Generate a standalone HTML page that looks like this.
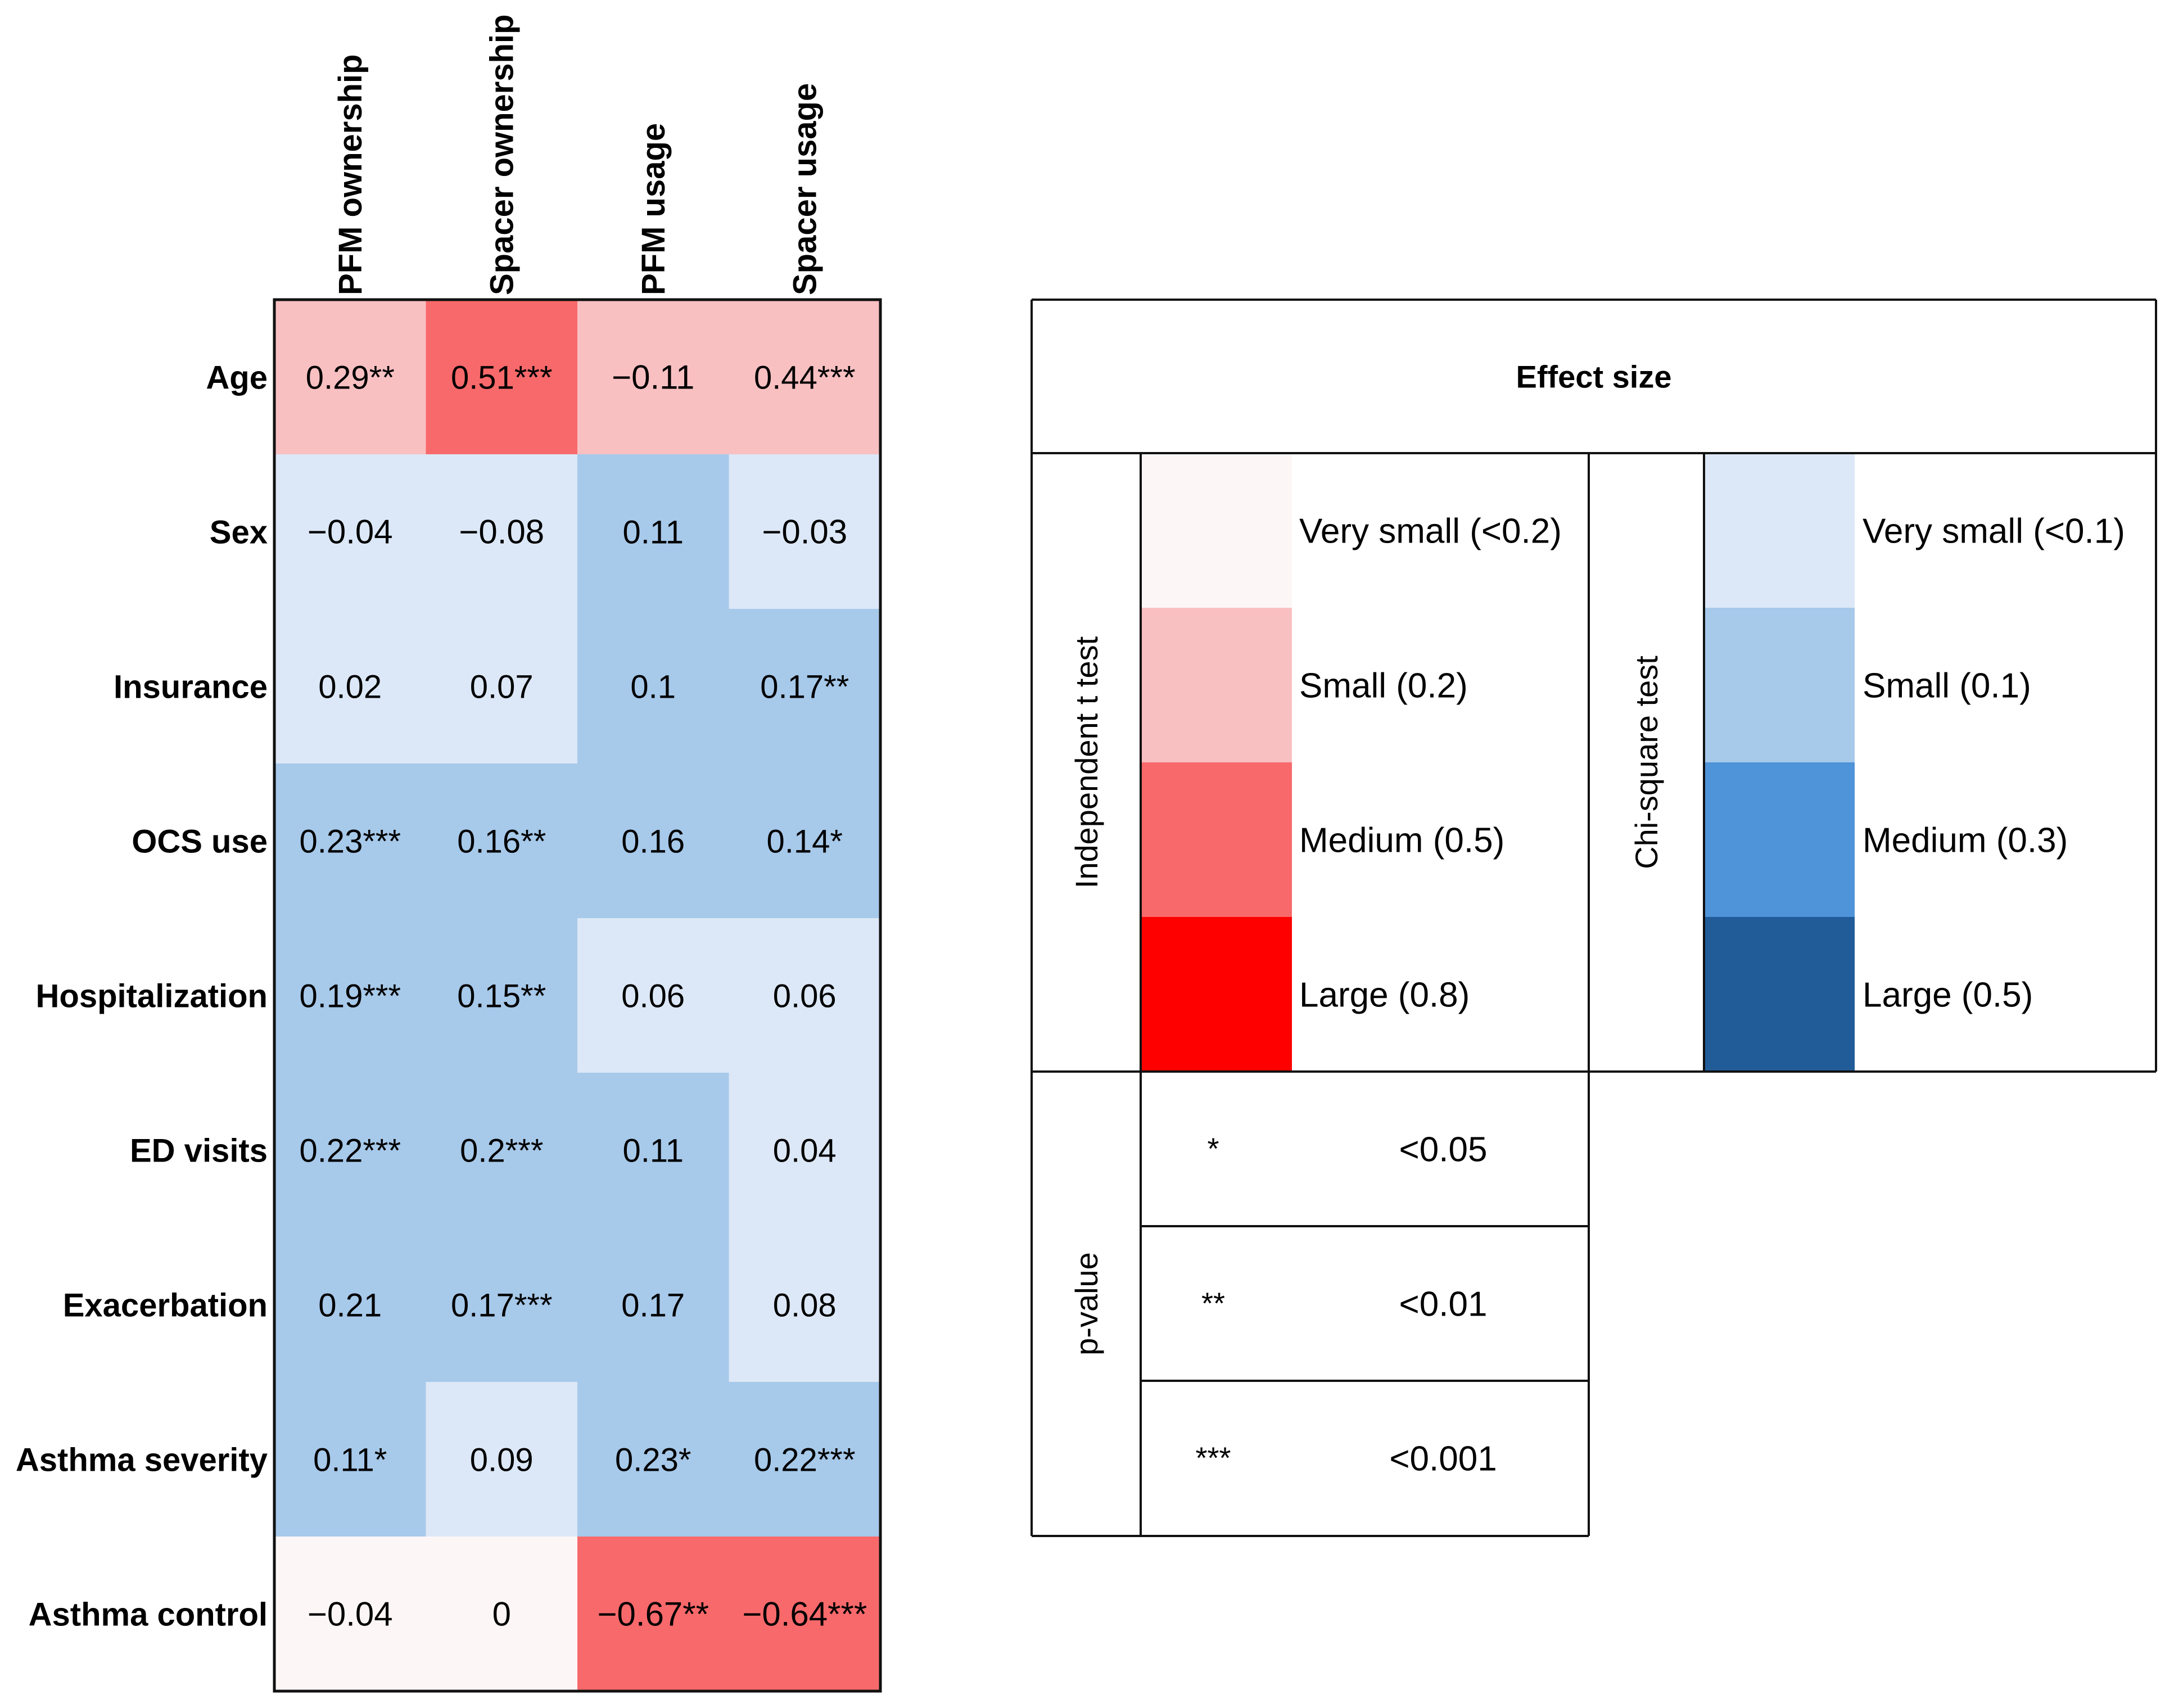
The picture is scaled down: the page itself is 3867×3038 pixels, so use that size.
<!DOCTYPE html>
<html><head><meta charset="utf-8"><style>
html,body{margin:0;padding:0;background:#fff}
svg{display:block}
text{font-family:"Liberation Sans",Arial,sans-serif}
</style></head><body>
<svg id="chart" width="3867" height="3038" viewBox="0 0 3867 3038" xmlns="http://www.w3.org/2000/svg">
<g id="heat"></g>
<g id="legend"></g>
</svg>
<script>
const rows = ["Age","Sex","Insurance","OCS use","Hospitalization","ED visits","Exacerbation","Asthma severity","Asthma control"];
const cols = ["PFM ownership","Spacer ownership","PFM usage","Spacer usage"];
const values = [
 ["0.29**","0.51***","\u22120.11","0.44***"],
 ["\u22120.04","\u22120.08","0.11","\u22120.03"],
 ["0.02","0.07","0.1","0.17**"],
 ["0.23***","0.16**","0.16","0.14*"],
 ["0.19***","0.15**","0.06","0.06"],
 ["0.22***","0.2***","0.11","0.04"],
 ["0.21","0.17***","0.17","0.08"],
 ["0.11*","0.09","0.23*","0.22***"],
 ["\u22120.04","0","\u22120.67**","\u22120.64***"]
];
const levels = [
 ["r1","r2","r1","r1"],
 ["b0","b0","b1","b0"],
 ["b0","b0","b1","b1"],
 ["b1","b1","b1","b1"],
 ["b1","b1","b0","b0"],
 ["b1","b1","b1","b0"],
 ["b1","b1","b1","b0"],
 ["b1","b0","b1","b1"],
 ["r0","r0","r2","r2"]
];
const palette = {r0:"#fdf6f6",r1:"#f9c0c2",r2:"#f8696b",r3:"#ff0000",b0:"#dce8f7",b1:"#a7c9ea",b2:"#4f93d8",b3:"#215c99"};
const tLabels = ["Very small (<0.2)","Small (0.2)","Medium (0.5)","Large (0.8)"];
const cLabels = ["Very small (<0.1)","Small (0.1)","Medium (0.3)","Large (0.5)"];
const pStars = ["*","**","***"];
const pVals = ["<0.05","<0.01","<0.001"];

const NS="http://www.w3.org/2000/svg";
function mk(tag, attrs, parent, txt){const e=document.createElementNS(NS,tag);for(const k in attrs)e.setAttribute(k,attrs[k]);if(txt!==undefined)e.textContent=txt;parent.appendChild(e);return e;}
const X0=488,Y0=533,CW=269.5,RH=275;
const xs=i=>X0+i*CW, ys=j=>Y0+j*RH;
const heat=document.getElementById('heat');
rows.forEach((r,j)=>{
 cols.forEach((c,i)=>{
  const rc=mk('rect',{x:xs(i),y:ys(j),width:CW+0.5,height:RH+0.5,fill:palette[levels[j][i]]},heat);
  
  
  const v=values[j][i];
  const neg=v.startsWith('\u2212')||v==="0";
  const t=mk('text',{x:xs(i)+CW/2,y:ys(j)+RH/2+21,'text-anchor':'middle','font-size':neg?60:58,
   'font-family':neg?'"Liberation Serif",serif':'"Liberation Sans",sans-serif'},heat,v);
  
  
 });
 const rl=mk('text',{x:X0-12,y:ys(j)+RH/2+21,'text-anchor':'end','font-size':58,'font-weight':'bold'},heat,r);
 
 
});
cols.forEach((c,i)=>{
 const cx=xs(i)+CW/2+20;
 const t=mk('text',{x:cx,y:Y0-8,transform:`rotate(-90 ${cx} ${Y0-8})`,'font-size':58,'font-weight':'bold'},heat,c);
 
 
});
const fr=mk('rect',{x:X0,y:Y0,width:CW*4,height:RH*9,fill:'none',stroke:'#111','stroke-width':5},heat);



const L=document.getElementById('legend');
const LX0=1835,LX1=3835,LY0=533,LY1=806,LY2=1906,LB=2732;
const sw=275;
function ln(x1,y1,x2,y2){const l=mk('line',{x1,y1,x2,y2,stroke:'#111','stroke-width':4},L);}
for(let k=0;k<4;k++){
 const a=mk('rect',{x:2029,y:LY1+k*sw,width:269,height:sw+0.5,fill:palette['r'+k]},L);
 
 
 const b=mk('rect',{x:3031,y:LY1+k*sw,width:268,height:sw+0.5,fill:palette['b'+k]},L);
 
 
 const ta=mk('text',{x:2311,y:LY1+k*sw+sw/2+22,'font-size':62},L,tLabels[k]);
 
 
 const tb=mk('text',{x:3313,y:LY1+k*sw+sw/2+22,'font-size':62},L,cLabels[k]);
 
 
}
for(let k=0;k<3;k++){
 const yc=LY2+k*sw+sw/2+22;
 const s=mk('text',{x:2158,y:yc-4,'text-anchor':'middle','font-size':54},L,pStars[k]);
 
 
 const p=mk('text',{x:2567,y:yc,'text-anchor':'middle','font-size':62},L,pVals[k]);
 
 
}
const h=mk('text',{x:(LX0+LX1)/2,y:(LY0+LY1)/2+20,'text-anchor':'middle','font-size':56,'font-weight':'bold'},L,'Effect size');


function vt(x,y,s,name){const t=mk('text',{x,y,transform:`rotate(-90 ${x} ${y})`,'text-anchor':'middle','font-size':56},L,s);}
vt(1952,(LY1+LY2)/2,'Independent t test','t-test-title');
vt(2948,(LY1+LY2)/2,'Chi-square test','chi-square-title');
vt(1952,(LY2+LB)/2,'p-value','p-value-title');
ln(LX0,LY0,LX1,LY0);ln(LX0,LY1,LX1,LY1);ln(LX0,LY2,LX1,LY2);
ln(LX0,LY0,LX0,LB);ln(LX1,LY0,LX1,LY2);
ln(2029,LY1,2029,LB);ln(2826,LY1,2826,LB);ln(3031,LY1,3031,LY2);
ln(LX0,LB,2826,LB);ln(2029,LY2+sw,2826,LY2+sw);ln(2029,LY2+2*sw,2826,LY2+2*sw);
</script>
</body></html>
